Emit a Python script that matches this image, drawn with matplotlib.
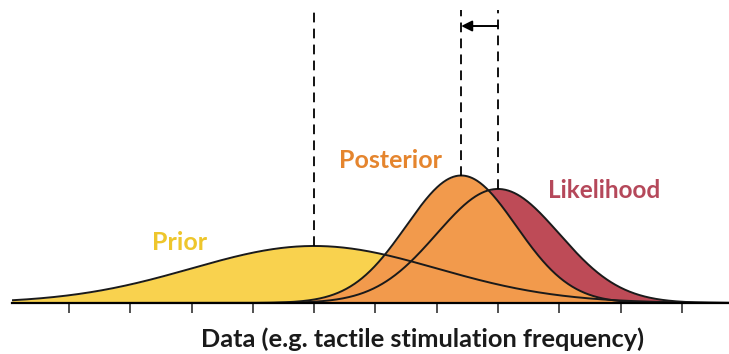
import numpy as np
import matplotlib
matplotlib.use("Agg")
import matplotlib.pyplot as plt

plt.rcParams['font.family'] = ['Lato', 'DejaVu Sans']
plt.rcParams['lines.scale_dashes'] = False

# Gaussian prior and likelihood (tick units on the x axis)
names = ["Prior", "Likelihood"]
means = [4.0, 7.0]
sigmas = [2.0, 1.0]
tick_pos = list(range(0, 11))

XLABEL = "Data (e.g. tactile stimulation frequency)"

fill_colors = {"Prior": "#F9D24E", "Likelihood": "#BE4B57", "Posterior": "#F29A4C"}
text_colors = {"Prior": "#EEC62C", "Likelihood": "#B5485A", "Posterior": "#E5852E"}


def normal_pdf(x, mu, sd):
    return np.exp(-0.5 * ((x - mu) / sd) ** 2) / (sd * np.sqrt(2 * np.pi))


# posterior = product of two gaussians
prec = [1 / s ** 2 for s in sigmas]
post_sigma = 1 / np.sqrt(sum(prec))
post_mean = (means[0] * prec[0] + means[1] * prec[1]) / sum(prec)

x = np.linspace(-0.93, 10.77, 1200)
prior = normal_pdf(x, means[0], sigmas[0])
lik = normal_pdf(x, means[1], sigmas[1])
post = normal_pdf(x, post_mean, post_sigma)

fig = plt.figure(figsize=(7.29, 3.54), dpi=100)
ax = fig.add_axes([12 / 729, 51 / 354, 717 / 729, 293 / 354])
ymax = 1.025
ax.set_xlim(x[0], x[-1])
ax.set_ylim(0, ymax)

# fills: prior at the back, likelihood, then posterior on top
ax.fill_between(x, prior, color=fill_colors["Prior"], lw=0, zorder=1)
ax.fill_between(x, lik, color=fill_colors["Likelihood"], lw=0, zorder=2)
ax.fill_between(x, post, color=fill_colors["Posterior"], lw=0, zorder=3)
for y in (prior, lik, post):
    ax.plot(x, y, color="#1a1a1a", lw=1.4, zorder=4)

# dashed lines from each peak up to the top
peaks = [(means[0], normal_pdf(means[0], means[0], sigmas[0])),
         (post_mean, normal_pdf(post_mean, post_mean, post_sigma)),
         (means[1], normal_pdf(means[1], means[1], sigmas[1]))]
for m, pk in peaks:
    ax.plot([m, m], [pk, ymax], color="black", lw=1.3, dashes=(7, 4.5), zorder=5)

# shift from likelihood mean to posterior mean
ax.annotate("", xy=(post_mean, 0.969), xytext=(means[1], 0.969),
            arrowprops=dict(arrowstyle="-|>", color="black", lw=1.4,
                            mutation_scale=16, shrinkA=0, shrinkB=0))

ax.text(1.81, 0.213, "Prior", color=text_colors["Prior"], fontsize=18,
        fontweight="bold", ha="center", va="center")
ax.text(5.24, 0.50, "Posterior", color=text_colors["Posterior"], fontsize=18,
        fontweight="bold", ha="center", va="center")
ax.text(8.73, 0.395, "Likelihood", color=text_colors["Likelihood"], fontsize=17.5,
        fontweight="bold", ha="center", va="center")

for side in ("top", "right", "left"):
    ax.spines[side].set_visible(False)
ax.spines["bottom"].set_linewidth(1.6)
ax.spines["bottom"].set_zorder(6)
ax.set_yticks([])
ax.set_xticks(tick_pos)
ax.set_xticklabels([])
ax.tick_params(axis="x", direction="out", length=7, width=1.1, color="#222222")

# axis title sits right of centre, under the posterior
fig.text(423 / 729, 7 / 354, XLABEL, fontsize=18.3, fontweight="bold",
         color="#1a1a1a", ha="center", va="baseline")

fig.savefig("out.png", dpi=100)
